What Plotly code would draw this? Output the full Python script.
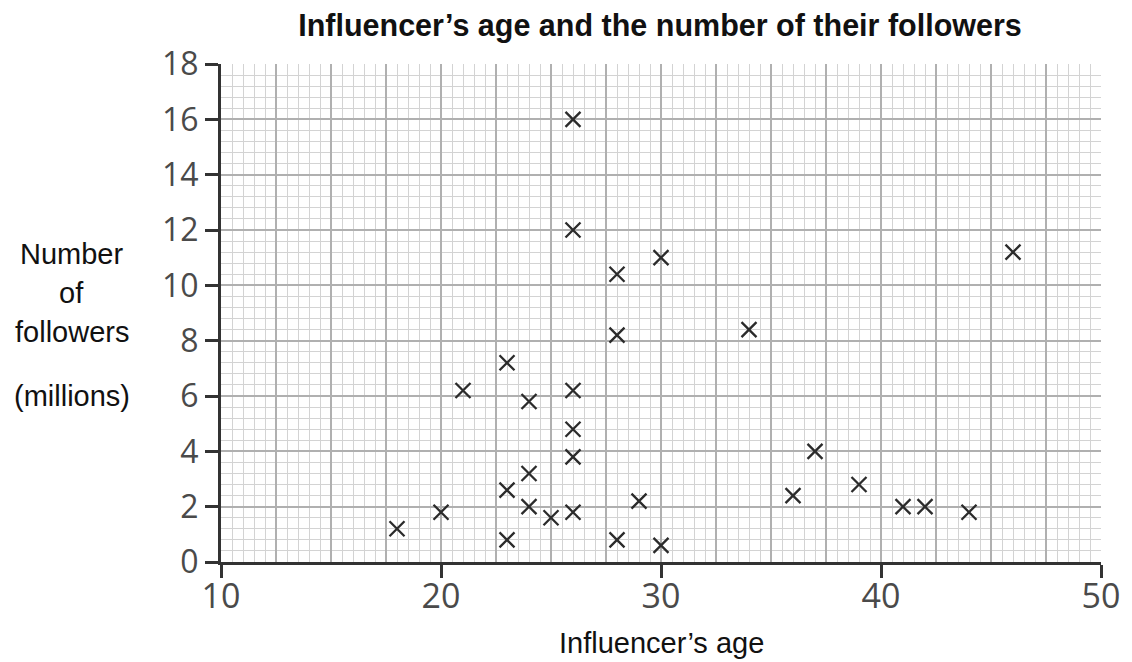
import plotly.graph_objects as go

# Data
ages = [18, 20, 21, 23, 23, 23, 24, 24, 24, 25, 26, 26, 26, 26, 26, 26,
        28, 28, 28, 29, 30, 30, 34, 36, 37, 39, 41, 42, 44, 46]
followers = [1.2, 1.8, 6.2, 7.2, 2.6, 0.8, 5.8, 3.2, 2.0, 1.6, 16.0, 12.0, 6.2, 4.8, 3.8, 1.8,
             10.4, 8.2, 0.8, 2.2, 11.0, 0.6, 8.4, 2.4, 4.0, 2.8, 2.0, 2.0, 1.8, 11.2]
x_ticks = [10, 20, 30, 40, 50]
y_ticks = [0, 2, 4, 6, 8, 10, 12, 14, 16, 18]

OFF = 8  # default body margin of the html page
W, H = 1132 - OFF, 662 - OFF
L, R, T, B = 221 - OFF, 28, 64 - OFF, 100
pw = W - L - R
ph = H - T - B

fig = go.Figure()
fig.add_trace(go.Scatter(
    x=ages, y=followers, mode="markers",
    marker=dict(symbol="x-thin", size=15, line=dict(width=2.3, color="#2b2b2b")),
    hoverinfo="skip", showlegend=False))
# invisible traces to activate the tick/line/label axes
fig.add_trace(go.Scatter(
    x=ages, y=followers, mode="markers", xaxis="x2", yaxis="y2",
    marker=dict(opacity=0), hoverinfo="skip", showlegend=False))
fig.add_trace(go.Scatter(
    x=ages, y=followers, mode="markers", xaxis="x3", yaxis="y2",
    marker=dict(opacity=0), hoverinfo="skip", showlegend=False))

tickfont_y = dict(family="Open Sans", size=32, color="#4a4a4a")
tickfont_x = dict(family="Open Sans", size=34, color="#4a4a4a")

fig.update_layout(
    width=W, height=H,
    margin=dict(l=L, r=R, t=T, b=B),
    paper_bgcolor="white", plot_bgcolor="white",
    xaxis=dict(range=[10, 50], tick0=10, dtick=2.5, showgrid=True,
               gridcolor="#b0b0b0", gridwidth=1.6,
               minor=dict(dtick=0.5, showgrid=True, gridcolor="#d3d3d3", gridwidth=1.3),
               showticklabels=False, ticks="", zeroline=False, showline=False),
    yaxis=dict(range=[0, 18], tick0=0, dtick=2, showgrid=True,
               gridcolor="#b0b0b0", gridwidth=1.6,
               minor=dict(dtick=0.4, showgrid=True, gridcolor="#d3d3d3", gridwidth=1.3),
               showticklabels=False, ticks="", zeroline=False, showline=False),
    xaxis2=dict(overlaying="x", side="bottom", range=[10, 50],
                tickvals=x_ticks, showticklabels=False,
                ticks="outside", ticklen=13, tickwidth=2.5, tickcolor="#333",
                showline=True, linecolor="#333", linewidth=3,
                showgrid=False, zeroline=False),
    xaxis3=dict(overlaying="x", side="bottom", range=[10, 50],
                tickvals=x_ticks, ticktext=[str(v) for v in x_ticks],
                ticks="", showline=False, showgrid=False, zeroline=False,
                ticklabelstandoff=11, tickfont=tickfont_x),
    yaxis2=dict(overlaying="y", side="left", range=[0, 18],
                tickvals=y_ticks, ticktext=[str(v) for v in y_ticks],
                ticks="outside", ticklen=13, tickwidth=2.5, tickcolor="#333",
                showline=True, linecolor="#333", linewidth=3,
                showgrid=False, zeroline=False, tickfont=tickfont_y),
    title=dict(text="<b>Influencer’s age and the number of their followers</b>",
               x=(660 - OFF) / W, xanchor="center", y=1 - (25 - OFF) / H, yanchor="middle",
               font=dict(family="Liberation Sans", size=30.5, color="#111")),
)

def xpaper(px):
    return (px - OFF - L) / pw

def ypaper(py):
    return (H - B - (py - OFF)) / ph

ann_font = dict(family="Liberation Sans", size=29, color="#111")
fig.add_annotation(text="Influencer’s age", xref="paper", yref="paper",
                   x=xpaper(663), y=ypaper(643), showarrow=False,
                   xanchor="center", yanchor="middle", font=ann_font)
for txt, py in [("Number", 254), ("of", 293), ("followers", 332), ("(millions)", 396)]:
    fig.add_annotation(text=txt, xref="paper", yref="paper",
                       x=xpaper(71), y=ypaper(py), showarrow=False,
                       xanchor="center", yanchor="middle", font=ann_font)

fig.write_html("out.html")
